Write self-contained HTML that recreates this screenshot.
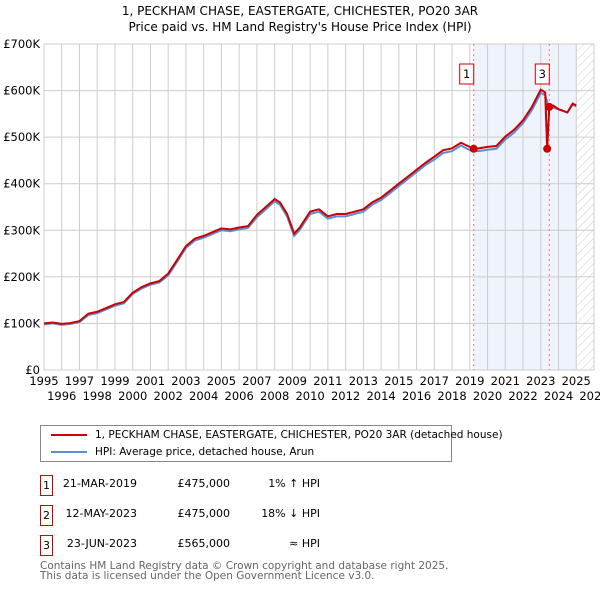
<!DOCTYPE html>
<html><head><meta charset="utf-8"><style>
body{margin:0;background:#fff;font-family:"DejaVu Sans","Liberation Sans",sans-serif;}
#wrap{position:relative;width:600px;height:590px;overflow:hidden;}
.t{position:absolute;font-size:11px;color:#000;white-space:nowrap;}
svg text{font-family:"DejaVu Sans","Liberation Sans",sans-serif;}
</style></head><body><div id="wrap">
<div class="t" style="left:0;width:600px;text-align:center;top:3px;font-size:12px;line-height:16px">1, PECKHAM CHASE, EASTERGATE, CHICHESTER, PO20 3AR<br>Price paid vs. HM Land Registry's House Price Index (HPI)</div>
<svg id="chart" width="600" height="420" style="position:absolute;left:0;top:0"></svg>
<div style="position:absolute;left:40px;top:425px;width:410px;height:35px;border:1px solid #888;">
<div style="position:absolute;left:10px;top:3px;font-size:10.5px;white-space:nowrap"><span style="display:inline-block;width:36px;height:2px;background:#cc0000;vertical-align:middle;margin-right:8px"></span>1, PECKHAM CHASE, EASTERGATE, CHICHESTER, PO20 3AR (detached house)</div>
<div style="position:absolute;left:10px;top:20px;font-size:10.5px;white-space:nowrap"><span style="display:inline-block;width:36px;height:2px;background:#5b8fd4;vertical-align:middle;margin-right:8px"></span>HPI: Average price, detached house, Arun</div>
</div>
<div id="tbl"></div>
<div class="t" style="left:40px;top:561px;font-size:10.5px;color:#666;line-height:10px">Contains HM Land Registry data © Crown copyright and database right 2025.<br>This data is licensed under the Open Government Licence v3.0.</div>
</div>
<script>
const hpiYears=[1995,1995.5,1996,1996.5,1997,1997.5,1998,1998.5,1999,1999.5,2000,2000.5,2001,2001.5,2002,2002.5,2003,2003.5,2004,2004.5,2005,2005.5,2006,2006.5,2007,2007.5,2008,2008.3,2008.7,2009.1,2009.4,2010,2010.5,2011,2011.5,2012,2012.5,2013,2013.5,2014,2014.5,2015,2015.5,2016,2016.5,2017,2017.5,2018,2018.5,2019,2019.5,2020,2020.5,2021,2021.5,2022,2022.5,2023,2023.25,2023.45,2024,2024.5,2024.8,2025];
const hpiValues=[98,100,97,99,103,118,122,130,138,143,163,175,183,188,203,232,262,278,284,292,300,298,302,305,328,345,362,355,330,288,300,335,340,325,330,330,335,340,355,365,380,395,410,425,440,452,466,470,482,472,470,473,475,495,510,530,558,595,590,565,560,553,570,566];
const redYears=[1995,1995.5,1996,1996.5,1997,1997.5,1998,1998.5,1999,1999.5,2000,2000.5,2001,2001.5,2002,2002.5,2003,2003.5,2004,2004.5,2005,2005.5,2006,2006.5,2007,2007.5,2008,2008.3,2008.7,2009.1,2009.4,2010,2010.5,2011,2011.5,2012,2012.5,2013,2013.5,2014,2014.5,2015,2015.5,2016,2016.5,2017,2017.5,2018,2018.5,2019.22,2019.5,2020,2020.5,2021,2021.5,2022,2022.5,2023,2023.25,2023.36,2023.48,2023.7,2024,2024.5,2024.8,2025];
const redValues=[100,102,99,101,105,121,125,133,141,146,166,178,186,191,207,236,266,282,288,296,304,302,306,309,333,350,367,360,335,293,305,340,345,330,335,335,340,345,360,370,385,400,415,430,445,458,472,476,488,475,476,479,481,501,516,536,565,602,596,475,565,568,560,553,572,568];
const sales=[{id:'1',x:2019.22,v:475,date:'21-MAR-2019',price:'£475,000',rel:'1% ↑ HPI'},{id:'2',x:2023.36,v:475,date:'12-MAY-2023',price:'£475,000',rel:'18% ↓ HPI'},{id:'3',x:2023.48,v:565,date:'23-JUN-2023',price:'£565,000',rel:'≈ HPI'}];
const yTicks=[0,100,200,300,400,500,600,700];
const xTicks=[1995,1996,1997,1998,1999,2000,2001,2002,2003,2004,2005,2006,2007,2008,2009,2010,2011,2012,2013,2014,2015,2016,2017,2018,2019,2020,2021,2022,2023,2024,2025,2026];
const L=44,R=594,T=44,B=370;
const X=y=>L+(y-1995)/(2026-1995)*(R-L);
const Y=v=>B-v/700*(B-T);
const s=document.getElementById('chart');const NS='http://www.w3.org/2000/svg';
function mk(t,a,p){const e=document.createElementNS(NS,t);for(const k in a)e.setAttribute(k,a[k]);(p||s).appendChild(e);return e;}
const defs=mk('defs',{});const pat=mk('pattern',{id:'h',width:6,height:6,patternUnits:'userSpaceOnUse',patternTransform:'rotate(45)'},defs);mk('line',{x1:0,y1:0,x2:0,y2:6,stroke:'#ccc','stroke-width':1},pat);
let e=mk('rect',{x:X(2019.22),y:T,width:X(2025)-X(2019.22),height:B-T,fill:'#eef3fc'});

e=mk('rect',{x:X(2025),y:T,width:R-X(2025),height:B-T,fill:'url(#h)'});

xTicks.forEach((t,i)=>{mk('line',{x1:X(t),x2:X(t),y1:T,y2:B,stroke:'#ccc'});
const l=mk('text',{x:X(t),y:B+(i%2?30:15),'text-anchor':'middle','font-size':11.5});l.textContent=t;
});
yTicks.forEach(t=>{mk('line',{x1:L,x2:R,y1:Y(t),y2:Y(t),stroke:'#ccc'});
const l=mk('text',{x:L-4,y:Y(t)+4,'text-anchor':'end','font-size':11.5});l.textContent=t?'£'+t+'K':'£0';
});
mk('rect',{x:L,y:T,width:R-L,height:B-T,fill:'none',stroke:'#ccc'});
[sales[0],sales[2]].forEach(d=>{mk('line',{x1:X(d.x),x2:X(d.x),y1:T,y2:B,stroke:'#e87878','stroke-dasharray':'2,3'});});
e=mk('path',{d:hpiYears.map((y,i)=>(i?'L':'M')+X(y)+','+Y(hpiValues[i])).join(''),fill:'none',stroke:'#5b8fd4','stroke-width':2});

e=mk('path',{d:redYears.map((y,i)=>(i?'L':'M')+X(y)+','+Y(redValues[i])).join(''),fill:'none',stroke:'#cc0000','stroke-width':2});

sales.forEach(d=>{e=mk('circle',{cx:X(d.x),cy:Y(d.v),r:4,fill:'#cc0000'});
});
[sales[0],sales[2]].forEach(d=>{const g=mk('g',{});
mk('rect',{x:X(d.x)-14,y:64,width:14,height:20,fill:'#fff',stroke:'#cc0000'},g);
const t=mk('text',{x:X(d.x)-7,y:78,'text-anchor':'middle','font-size':11.5},g);t.textContent=d.id;});
const tb=document.getElementById('tbl');
sales.forEach((d,i)=>{const top=475+i*30;
const row=document.createElement('div');
row.innerHTML=`<div style="position:absolute;left:40px;top:${top}px;width:11px;height:19px;border:1px solid #cc0000;font-size:11px;text-align:center;line-height:19px">${d.id}</div>
<div class="t" style="left:60px;width:77px;text-align:right;top:${top+2}px">${d.date}</div>
<div class="t" style="left:160px;width:70px;text-align:right;top:${top+2}px">${d.price}</div>
<div class="t" style="left:240px;width:80px;text-align:right;top:${top+2}px">${d.rel}</div>`;
tb.appendChild(row);});
</script></body></html>
